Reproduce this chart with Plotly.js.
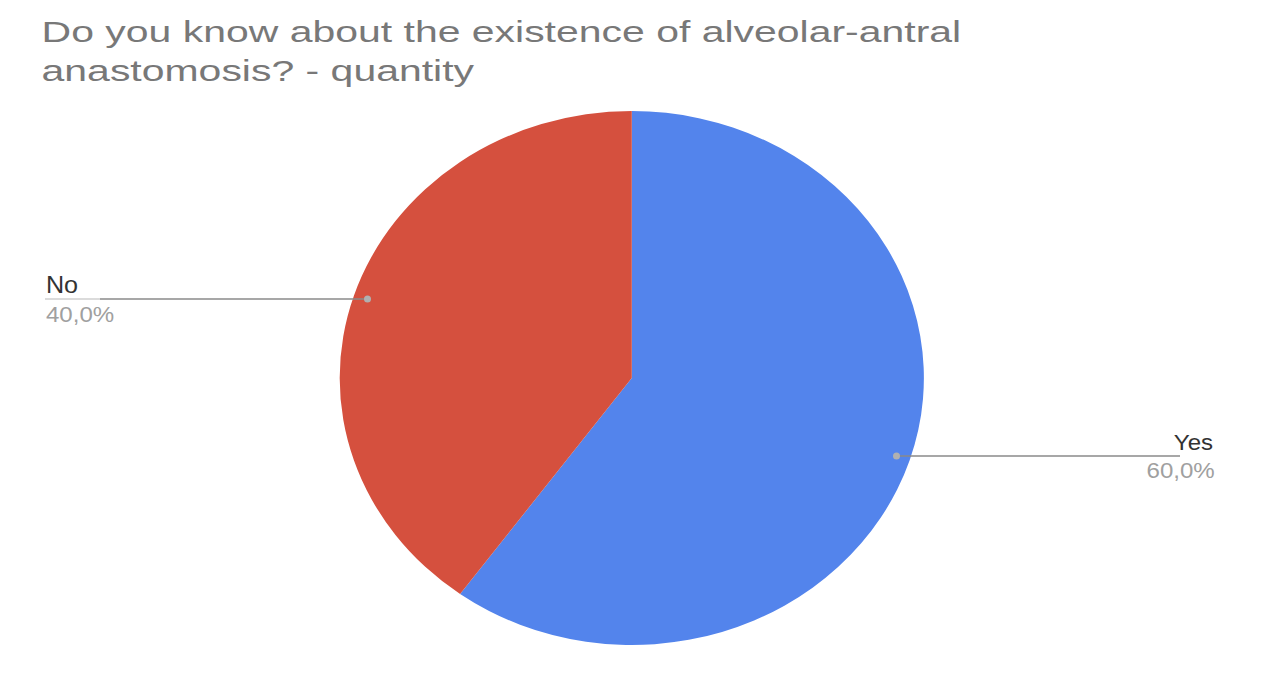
<!DOCTYPE html>
<html>
<head>
<meta charset="utf-8">
<script src="https://cdn.plot.ly/plotly-3.0.1.min.js"></script>
<style>
  html, body { margin: 0; padding: 0; background: #ffffff; overflow: hidden; }
  #wrap { width: 1268px; height: 698px; overflow: hidden; }
  /* the chart is laid out narrower and widened horizontally */
  #chart { width: 1159px; height: 698px; transform: scaleX(1.094); transform-origin: 0 0; }
  /* the title glyphs are drawn extra wide */
  #chart .gtitle { transform-box: fill-box; transform-origin: 0 0; transform: scaleX(1.248); }
</style>
</head>
<body>
<div id="wrap"><div id="chart"></div></div>
<script>
// Survey answers
const answers = ['Yes', 'No'];
const counts = [60, 40];
const sliceColors = ['#5384EC', '#D5503E'];
const chartTitle = 'Do you know about the existence of alveolar-antral<br>anastomosis? - quantity';

const W = 1159, H = 698, SX = 1.094;
const M = { l: 0, r: 4, t: 111, b: 53 };
const plotW = W - M.l - M.r, plotH = H - M.t - M.b;
// screen pixel -> paper coordinates
const px = x => (x / SX - M.l) / plotW;
const py = y => (H - M.b - y) / plotH;

const total = counts.reduce((a, b) => a + b, 0);
const pct = v => (v / total * 100).toFixed(1).replace('.', ',') + '%';

const trace = {
  type: 'pie',
  labels: answers,
  values: counts,
  sort: false,
  direction: 'clockwise',
  rotation: 0,
  marker: { colors: sliceColors, line: { width: 0 } },
  textinfo: 'none',
  hoverinfo: 'label+percent',
  showlegend: false
};

const labelFont = { family: 'Liberation Sans, Arial, sans-serif', size: 22, color: '#333333' };
const pctFont = { family: 'Liberation Sans, Arial, sans-serif', size: 22, color: '#a0a0a0' };

const annotations = [
  { text: answers[1], x: px(44), y: py(285), xanchor: 'left', yanchor: 'middle', font: Object.assign({}, labelFont, { size: 23 }) },
  { text: pct(counts[1]), x: px(44), y: py(314), xanchor: 'left', yanchor: 'middle', font: pctFont },
  { text: answers[0], x: px(1215), y: py(442), xanchor: 'right', yanchor: 'middle', font: labelFont },
  { text: pct(counts[0]), x: px(1216), y: py(470), xanchor: 'right', yanchor: 'middle', font: pctFont }
].map(a => Object.assign({ xref: 'paper', yref: 'paper', showarrow: false }, a));

const shapes = [
  // leader line for "No"
  { type: 'line', x0: px(45), x1: px(100), y0: py(299), y1: py(299), line: { color: '#cfcfcf', width: 1.5 } },
  { type: 'line', x0: px(100), x1: px(366), y0: py(299), y1: py(299), line: { color: '#8a8a8a', width: 1.5 } },
  { type: 'circle', x0: px(364), x1: px(371), y0: py(302.5), y1: py(295.5), fillcolor: '#b0b0b0', line: { width: 0 } },
  // leader line for "Yes"
  { type: 'line', x0: px(898), x1: px(1180), y0: py(456), y1: py(456), line: { color: '#8a8a8a', width: 1.5 } },
  { type: 'circle', x0: px(893), x1: px(900), y0: py(459.5), y1: py(452.5), fillcolor: '#b0b0b0', line: { width: 0 } }
].map(s => Object.assign({ xref: 'paper', yref: 'paper', layer: 'above' }, s));

const layout = {
  width: W,
  height: H,
  margin: M,
  paper_bgcolor: '#ffffff',
  plot_bgcolor: '#ffffff',
  title: {
    text: chartTitle,
    xref: 'container', yref: 'container',
    x: 38 / W, xanchor: 'left',
    y: 1 - 42 / H, yanchor: 'top',
    font: { family: 'Liberation Sans, Arial, sans-serif', size: 30, color: '#787878' }
  },
  annotations: annotations,
  shapes: shapes
};

Plotly.newPlot('chart', [trace], layout, { displayModeBar: false, staticPlot: true });
</script>
</body>
</html>
